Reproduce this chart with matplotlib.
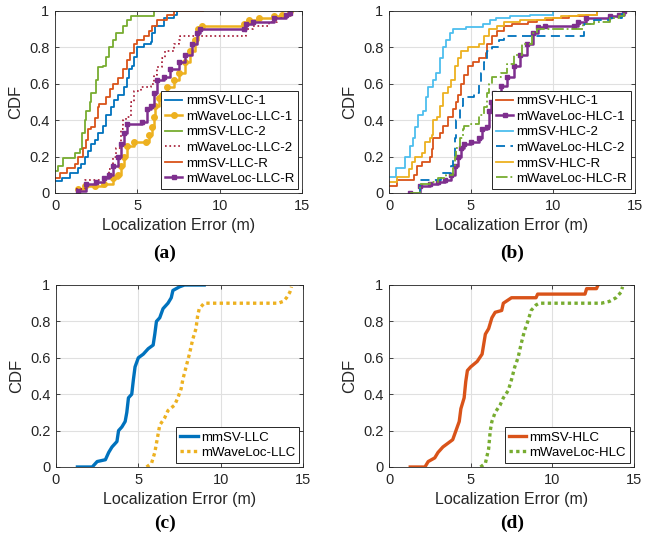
import numpy as np
import matplotlib
matplotlib.use('Agg')
import matplotlib.pyplot as plt

# ---- data: (error in m, CDF) ----
# panel (a)
llc1_sv_x = [0, 0.4, 0.9, 1.4, 1.6, 1.8, 2.0, 2.2, 2.4, 2.6, 2.9, 3.1, 3.4, 3.6, 3.8, 4.2, 4.4, 4.5, 4.7, 4.8, 5.0, 5.4, 5.8, 5.9, 6.1, 6.6, 7.2, 7.4]
llc1_sv_y = [0.065, 0.08, 0.11, 0.135, 0.16, 0.2, 0.23, 0.27, 0.29, 0.33, 0.37, 0.43, 0.47, 0.51, 0.54, 0.58, 0.63, 0.68, 0.7, 0.75, 0.8, 0.82, 0.83, 0.88, 0.92, 0.96, 0.98, 1.0]
llc1_wl_x = [1.4, 1.8, 2.4, 3.0, 3.5, 3.8, 4.0, 4.2, 4.4, 4.8, 5.5, 5.7, 5.9, 6.0, 6.1, 6.3, 6.5, 6.8, 7.2, 7.5, 7.9, 8.2, 8.5, 8.7, 8.9, 11.5, 11.8, 12.4, 13.3, 13.8, 14.3]
llc1_wl_y = [0.02, 0.04, 0.04, 0.05, 0.08, 0.10, 0.15, 0.2, 0.26, 0.28, 0.28, 0.32, 0.36, 0.42, 0.48, 0.52, 0.54, 0.58, 0.62, 0.66, 0.72, 0.78, 0.84, 0.9, 0.92, 0.93, 0.95, 0.96, 0.97, 0.98, 1.0]
llc2_sv_x = [0, 0.2, 0.5, 1.2, 1.5, 1.65, 1.8, 1.9, 2.1, 2.2, 2.5, 2.6, 2.9, 3.1, 3.3, 3.5, 3.7, 4.1, 4.4, 4.6, 6.0]
llc2_sv_y = [0.12, 0.15, 0.19, 0.22, 0.24, 0.33, 0.4, 0.45, 0.5, 0.55, 0.62, 0.69, 0.7, 0.75, 0.8, 0.84, 0.88, 0.92, 0.95, 0.97, 1.0]
llc2_wl_x = [1.3, 1.8, 3.0, 3.3, 3.5, 3.7, 4.0, 4.1, 4.3, 4.6, 4.8, 5.2, 5.8, 6.0, 6.2, 6.5, 6.7, 7.2, 7.5, 7.6, 11.6, 12.0, 13.0, 13.5, 14.0, 14.3]
llc2_wl_y = [0.02, 0.07, 0.09, 0.13, 0.2, 0.25, 0.35, 0.4, 0.42, 0.5, 0.56, 0.58, 0.6, 0.65, 0.69, 0.74, 0.78, 0.82, 0.84, 0.86, 0.9, 0.92, 0.94, 0.96, 0.98, 1.0]
llcr_sv_x = [0, 0.3, 0.7, 1.2, 1.4, 1.7, 1.9, 2.0, 2.2, 2.4, 2.6, 2.7, 3.1, 3.35, 3.55, 3.85, 4.15, 4.36, 4.56, 4.77, 4.97, 5.38, 5.7, 5.9, 6.2, 6.8, 7.2, 9.0]
llcr_sv_y = [0.085, 0.11, 0.135, 0.16, 0.2, 0.25, 0.29, 0.35, 0.36, 0.41, 0.47, 0.49, 0.53, 0.57, 0.6, 0.63, 0.68, 0.73, 0.77, 0.82, 0.84, 0.86, 0.89, 0.92, 0.95, 0.98, 1.0, 1.0]
llcr_wl_x = [1.4, 1.9, 2.5, 3.0, 3.3, 3.5, 3.8, 4.0, 4.2, 4.4, 5.3, 5.6, 5.8, 6.0, 6.2, 6.6, 7.0, 7.5, 7.9, 8.3, 8.6, 8.8, 11.5, 11.6, 12.0, 13.3, 14.0, 14.3]
llcr_wl_y = [0.01, 0.05, 0.06, 0.08, 0.1, 0.15, 0.2, 0.27, 0.33, 0.38, 0.39, 0.46, 0.48, 0.55, 0.62, 0.64, 0.68, 0.72, 0.76, 0.82, 0.88, 0.9, 0.9, 0.93, 0.94, 0.96, 0.98, 0.99]

# panel (b)
hlc1_sv_x = [0, 0.5, 1.5, 1.7, 2.0, 2.5, 2.6, 2.7, 3.1, 3.3, 3.6, 3.9, 4.1, 4.2, 4.4, 4.6, 4.8, 5.1, 5.5, 5.9, 6.0, 6.3, 6.6, 7.0, 7.5, 8.5, 9.0, 10.0, 11.0, 12.0, 12.7]
hlc1_sv_y = [0.04, 0.07, 0.1, 0.15, 0.17, 0.2, 0.24, 0.3, 0.33, 0.37, 0.42, 0.46, 0.5, 0.54, 0.6, 0.65, 0.7, 0.72, 0.74, 0.77, 0.82, 0.86, 0.89, 0.92, 0.93, 0.94, 0.95, 0.96, 0.97, 0.98, 0.99]
hlc1_wl_x = [1.3, 1.9, 2.5, 3.0, 3.4, 3.8, 4.0, 4.2, 4.4, 4.6, 5.0, 5.5, 5.7, 6.0, 6.1, 6.2, 6.4, 6.8, 7.2, 7.6, 8.0, 8.4, 8.8, 9.1, 9.5, 11.3, 11.5, 12.0, 13.5, 14.0, 14.3]
hlc1_wl_y = [0.0, 0.04, 0.05, 0.06, 0.07, 0.1, 0.15, 0.2, 0.25, 0.27, 0.28, 0.3, 0.35, 0.36, 0.45, 0.5, 0.55, 0.59, 0.64, 0.7, 0.76, 0.82, 0.88, 0.91, 0.92, 0.92, 0.94, 0.96, 0.97, 0.98, 1.0]
hlc2_sv_x = [0, 0.45, 0.95, 1.26, 1.46, 1.56, 1.77, 2.07, 2.28, 2.38, 2.68, 2.89, 3.09, 3.29, 3.5, 3.7, 3.9, 4.72, 5.73, 6.14, 6.54, 7.36, 8.58, 10.0]
hlc2_sv_y = [0.09, 0.14, 0.2, 0.26, 0.3, 0.36, 0.43, 0.45, 0.53, 0.58, 0.62, 0.66, 0.74, 0.8, 0.84, 0.88, 0.9, 0.91, 0.93, 0.95, 0.96, 0.97, 0.98, 1.0]
hlc2_wl_x = [1.8, 1.9, 3.2, 3.8, 3.9, 4.0, 4.1, 4.3, 4.5, 5.2, 5.5, 5.6, 5.8, 6.0, 6.3, 6.7, 7.0, 11.8, 11.9, 12.5, 13.5, 14.2]
hlc2_wl_y = [0.0, 0.07, 0.11, 0.15, 0.2, 0.3, 0.4, 0.48, 0.53, 0.55, 0.6, 0.66, 0.72, 0.78, 0.8, 0.84, 0.86, 0.86, 0.93, 0.95, 0.96, 0.99]
hlcr_sv_x = [0, 0.5, 1.2, 1.4, 1.6, 2.0, 2.2, 2.5, 2.6, 2.7, 2.9, 3.1, 3.3, 3.6, 3.8, 4.0, 4.2, 4.4, 4.8, 5.5, 5.8, 6.1, 6.6, 7.0, 8.0, 9.5, 10.5, 11.5, 12.7]
hlcr_sv_y = [0.06, 0.09, 0.13, 0.17, 0.2, 0.22, 0.28, 0.3, 0.32, 0.4, 0.42, 0.48, 0.55, 0.58, 0.62, 0.7, 0.74, 0.78, 0.8, 0.82, 0.86, 0.9, 0.92, 0.94, 0.95, 0.96, 0.97, 0.98, 1.0]
hlcr_wl_x = [1.3, 1.9, 2.5, 3.0, 3.5, 3.9, 4.0, 4.1, 4.3, 4.5, 4.6, 5.0, 5.5, 5.8, 6.0, 6.1, 6.3, 6.8, 7.2, 7.6, 8.1, 8.7, 9.0, 11.5, 11.8, 12.5, 13.5, 14.0, 14.3]
hlcr_wl_y = [0.0, 0.05, 0.06, 0.08, 0.1, 0.14, 0.2, 0.25, 0.3, 0.35, 0.37, 0.38, 0.43, 0.47, 0.55, 0.6, 0.64, 0.66, 0.71, 0.76, 0.82, 0.88, 0.9, 0.9, 0.93, 0.94, 0.96, 0.97, 0.99]

# panel (c)
llc_sv_x = [1.3, 2.2, 2.5, 3.0, 3.2, 3.4, 3.7, 3.8, 4.0, 4.2, 4.3, 4.4, 4.6, 4.7, 4.8, 5.0, 5.3, 5.6, 5.9, 6.0, 6.1, 6.3, 6.5, 6.8, 7.0, 7.1, 7.5, 7.8, 9.0]
llc_sv_y = [0.0, 0.0, 0.03, 0.04, 0.08, 0.11, 0.14, 0.2, 0.22, 0.25, 0.3, 0.38, 0.4, 0.48, 0.55, 0.6, 0.62, 0.65, 0.67, 0.73, 0.8, 0.82, 0.87, 0.9, 0.93, 0.97, 0.99, 1.0, 1.0]
llc_wl_x = [5.5, 5.8, 6.0, 6.2, 6.3, 6.6, 6.8, 7.2, 7.4, 7.6, 7.7, 7.9, 8.1, 8.3, 8.5, 8.6, 8.7, 9.0, 13.5, 13.8, 14.0, 14.2, 14.3]
llc_wl_y = [0.0, 0.02, 0.08, 0.18, 0.23, 0.27, 0.31, 0.34, 0.38, 0.43, 0.48, 0.55, 0.62, 0.7, 0.76, 0.83, 0.87, 0.9, 0.9, 0.91, 0.93, 0.96, 0.99]

# panel (d)
hlc_sv_x = [1.3, 2.2, 2.4, 2.8, 3.0, 3.3, 3.6, 3.9, 4.1, 4.3, 4.4, 4.6, 4.7, 4.8, 5.0, 5.4, 5.7, 5.9, 6.1, 6.3, 6.5, 6.9, 7.0, 7.5, 9.0, 9.1, 12.0, 12.1, 12.7, 12.8]
hlc_sv_y = [0.0, 0.0, 0.03, 0.05, 0.08, 0.11, 0.13, 0.15, 0.2, 0.25, 0.32, 0.38, 0.47, 0.53, 0.55, 0.58, 0.62, 0.73, 0.76, 0.82, 0.85, 0.86, 0.9, 0.93, 0.93, 0.95, 0.95, 0.98, 0.98, 1.0]
hlc_wl_x = [5.6, 5.9, 6.1, 6.2, 6.3, 6.5, 6.8, 7.0, 7.3, 7.5, 7.7, 7.9, 8.1, 8.3, 8.5, 8.7, 9.0, 9.2, 13.0, 13.5, 13.9, 14.2, 14.3]
hlc_wl_y = [0.0, 0.02, 0.1, 0.2, 0.25, 0.3, 0.34, 0.38, 0.42, 0.48, 0.55, 0.6, 0.68, 0.75, 0.8, 0.86, 0.89, 0.9, 0.9, 0.91, 0.93, 0.96, 0.99]

blue = '#0072BD'
red = '#D95319'
yellow = '#EDB120'
purple = '#7E2F8E'
green = '#77AC30'
cyan = '#4DBEEE'
maroon = '#A2142F'

plt.rcParams['font.family'] = ['Liberation Sans', 'DejaVu Sans']
plt.rcParams['font.size'] = 10

fig = plt.figure(figsize=(6.52, 5.43), dpi=100)
W, H = 652, 543


def make_ax(x0, x1, ytop, ybot):
    ax = fig.add_axes([x0 / W, 1 - ybot / H, (x1 - x0) / W, (ybot - ytop) / H])
    ax.set_xlim(0, 15)
    ax.set_ylim(0, 1)
    ax.set_xticks([0, 5, 10, 15])
    ax.set_yticks([0, 0.2, 0.4, 0.6, 0.8, 1])
    ax.set_yticklabels(['0', '0.2', '0.4', '0.6', '0.8', '1'])
    ax.grid(True, color='#e0e0e0', linewidth=0.8)
    ax.set_axisbelow(True)
    ax.tick_params(direction='in', length=3, width=0.6, colors='#262626',
                   top=True, right=True, labelsize=10.5, pad=4)
    for s in ax.spines.values():
        s.set_linewidth(0.6)
        s.set_color('#262626')
    ax.set_xlabel('Localization Error (m)', fontsize=11.5, color='#262626', labelpad=4)
    ax.set_ylabel('CDF', fontsize=12, color='#262626', labelpad=4)
    return ax


def add_legend(ax):
    leg = ax.legend(loc='lower right', fontsize=9.5, fancybox=False, edgecolor='#262626',
                    framealpha=1, borderaxespad=0.3, handlelength=1.3, handletextpad=0.25,
                    labelspacing=0.25, borderpad=0.3)
    leg.get_frame().set_linewidth(0.7)


def panel_label(x, y, s):
    fig.text(x / W, 1 - y / H, s, ha='center', va='center', fontsize=14,
             fontweight='bold', family='Liberation Serif')


# (a)
ax = make_ax(55, 302, 11, 193)
ax.plot(llc1_sv_x, llc1_sv_y, color=blue, lw=1.3, drawstyle='steps-post', label='mmSV-LLC-1')
ax.plot(llc1_wl_x, llc1_wl_y, color=yellow, lw=1.8, drawstyle='steps-post', marker='o',
        ms=4, label='mWaveLoc-LLC-1')
ax.plot(llc2_sv_x, llc2_sv_y, color=green, lw=1.3, drawstyle='steps-post', label='mmSV-LLC-2')
ax.plot(llc2_wl_x, llc2_wl_y, color=maroon, lw=1.2, ls=':', drawstyle='steps-post',
        label='mWaveLoc-LLC-2')
ax.plot(llcr_sv_x, llcr_sv_y, color=red, lw=1.3, drawstyle='steps-post', label='mmSV-LLC-R')
ax.plot(llcr_wl_x, llcr_wl_y, color=purple, lw=1.8, drawstyle='steps-post', marker='s',
        ms=2.5, label='mWaveLoc-LLC-R')
add_legend(ax)
panel_label(165, 253, '(a)')

# (b)
ax = make_ax(389, 635, 11, 193)
ax.plot(hlc1_sv_x, hlc1_sv_y, color=red, lw=1.3, drawstyle='steps-post', label='mmSV-HLC-1')
ax.plot(hlc1_wl_x, hlc1_wl_y, color=purple, lw=1.8, drawstyle='steps-post', marker='s',
        ms=2.5, label='mWaveLoc-HLC-1')
ax.plot(hlc2_sv_x, hlc2_sv_y, color=cyan, lw=1.3, drawstyle='steps-post', label='mmSV-HLC-2')
ax.plot(hlc2_wl_x, hlc2_wl_y, color=blue, lw=1.3, ls=(0, (5, 3)), drawstyle='steps-post',
        label='mWaveLoc-HLC-2')
ax.plot(hlcr_sv_x, hlcr_sv_y, color=yellow, lw=1.3, drawstyle='steps-post', label='mmSV-HLC-R')
ax.plot(hlcr_wl_x, hlcr_wl_y, color=green, lw=1.3, ls='-.', drawstyle='steps-post',
        label='mWaveLoc-HLC-R')
add_legend(ax)
panel_label(512, 253, '(b)')

# (c)
ax = make_ax(56, 303, 285, 467)
ax.plot(llc_sv_x, llc_sv_y, color=blue, lw=2.4, label='mmSV-LLC')
ax.plot(llc_wl_x, llc_wl_y, color=yellow, lw=2.4, ls=(0, (1, 1)), label='mWaveLoc-LLC')
add_legend(ax)
panel_label(165, 523, '(c)')

# (d)
ax = make_ax(389, 634, 285, 467)
ax.plot(hlc_sv_x, hlc_sv_y, color=red, lw=2.4, label='mmSV-HLC')
ax.plot(hlc_wl_x, hlc_wl_y, color=green, lw=2.4, ls=(0, (1, 1)), label='mWaveLoc-HLC')
add_legend(ax)
panel_label(512, 523, '(d)')

plt.savefig('out.png', dpi=100)
